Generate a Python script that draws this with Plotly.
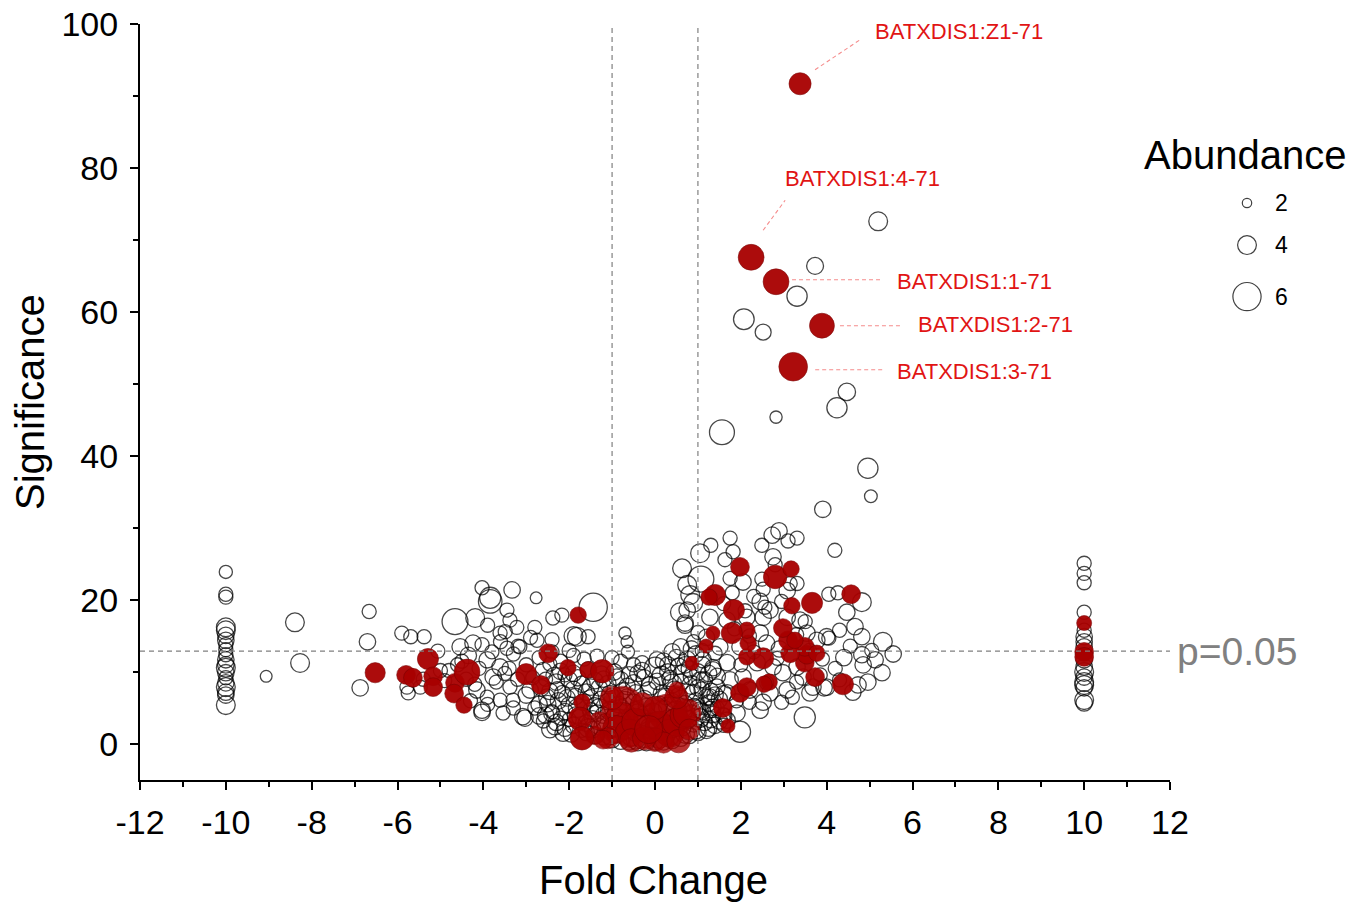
import plotly.graph_objects as go

# ---------------- layout constants (screen px) ----------------
W, H = 1362, 902
SX0, SX1 = 140, 1170      # plot area left / right
SY0, SY1 = 24, 780        # plot area top / bottom
X_RANGE = [-12, 12]
Y_RANGE = [-5, 100]
SIZE_SCALE = 4.7          # px of diameter per abundance unit
FONT = "Arial, Liberation Sans, sans-serif"


def px(sx):
    return sx / W


def py(sy):
    return 1 - sy / H


# ---------------- data ----------------
fc_thresholds = [-1, 1]
sig_threshold = 12.9
p_label = "p=0.05"
x_ticks = [-12, -10, -8, -6, -4, -2, 0, 2, 4, 6, 8, 10, 12]
y_ticks = [0, 20, 40, 60, 80, 100]

# column of features with fold change = -10 : (significance, abundance)
col_left_fc = -10
col_left = [(23.9, 2.8), (20.8, 3), (20.4, 3), (16.2, 4), (15.8, 4), (15.1, 3.5), (14.4, 3.5),
            (13.8, 3), (13.1, 3), (12.4, 3), (11.7, 3.5), (11.0, 3.5), (10.6, 4), (9.9, 3.5),
            (9.2, 3), (8.5, 3.5), (7.9, 4), (7.2, 3.5), (6.8, 3.5), (5.4, 4)]

# column of features with fold change = +10
col_right_fc = 10
col_right = [(25.1, 3), (23.7, 3), (22.4, 3), (18.3, 3), (15.8, 3), (14.9, 3.5), (14.2, 3.5),
             (13.5, 3.5), (11.7, 3.5), (10.7, 3.5), (10.0, 4), (9.3, 3.5), (8.6, 4), (8.2, 4),
             (7.8, 3.5), (6.1, 4), (5.7, 3.5)]
col_right_red = [(16.8, 3.2), (12.8, 4), (12.1, 4)]

# open circles (fold change, significance, abundance)
open_left_wing = [
    (-9.06, 9.4, 2.5), (-8.39, 16.9, 4), (-8.27, 11.25, 4), (-6.87, 7.8, 3.5), (-6.66, 18.4, 3),
    (-6.7, 14.2, 3.5), (-5.9, 15.4, 3), (-5.69, 14.9, 3), (-5.38, 14.9, 3), (-5.06, 12.9, 3),
    (-5.78, 7.9, 3), (-5.75, 7.1, 3), (-5.47, 7.9, 3), (-4.66, 17.0, 5.5), (-4.19, 17.5, 4),
    (-4.03, 21.7, 3), (-3.84, 20.3, 4.5), (-3.84, 19.8, 5), (-3.33, 21.4, 3.5), (-2.77, 20.3, 2.5),
    (-3.45, 18.6, 3), (-3.38, 17.2, 3), (-3.22, 16.2, 3), (-3.49, 15.6, 3), (-2.8, 16.2, 3),
    (-2.38, 17.5, 3), (-2.17, 17.9, 3), (-3.19, 13.6, 3), (-4.54, 13.5, 3.5), (-4.24, 14.0, 3.5),
    (-4.03, 13.8, 3), (-3.91, 11.7, 3.5), (-3.61, 10.7, 3.5), (-3.77, 9.3, 3.5), (-4.15, 7.5, 3.5),
    (-3.91, 6.5, 3), (-4.03, 4.4, 3.5), (-3.38, 7.9, 3), (-3.31, 6.1, 3), (-3.08, 3.8, 3.5),
    (-3.54, 4.3, 3), (-2.91, 7.5, 3.5), (-2.52, 6.5, 3.5), (-2.28, 7.5, 3.5), (-4.5, 11.5, 3),
    (-4.8, 10.2, 3), (-4.35, 12.3, 3.5), (-4.1, 10.5, 3), (-3.3, 12.5, 3), (-3.0, 11.0, 3),
    (-2.6, 10.2, 3.5), (-2.7, 12.0, 3), (-2.2, 11.5, 3), (-2.0, 13.0, 3), (-1.9, 15.0, 4),
    (-1.56, 14.9, 3), (-1.82, 14.9, 4), (-1.44, 19.0, 6), (-2.4, 14.5, 3), (-2.9, 14.8, 3),
    (-3.6, 14.2, 3), (-3.9, 16.5, 3), (-3.61, 15.4, 3), (-3.45, 13.3, 3), (-3.15, 13.5, 3),
    (-2.75, 14.4, 3), (-3.61, 6.1, 3), (-3.7, 8.6, 3), (-3.5, 9.8, 3), (-3.2, 9.0, 3),
    (-2.85, 9.2, 3), (-4.4, 9.0, 3), (-4.9, 8.8, 3), (-3.03, 3.6, 3.5), (-2.33, 2.4, 3.5),
    (-2.14, 1.5, 3.5), (-4.03, 4.7, 3.5), (-2.6, 3.2, 3), (-2.8, 5.0, 3), (-2.4, 4.5, 3),
    (-0.7, 15.4, 2.6), (-0.65, 14.2, 2.6), (-0.63, 12.8, 2.8), (-2.55, 9.0, 3), (-2.1, 9.6, 3),
    (-3.3, 5.0, 3), (-3.9, 5.5, 3), (-4.3, 6.0, 3), (-4.6, 11.0, 3), (-5.0, 10.2, 3),
    (-5.4, 9.0, 3), (-3.8, 12.8, 3), (-4.2, 8.3, 3), (-3.0, 6.8, 3.5), (-2.7, 3.9, 3.5),
    (-3.4, 10.5, 3), (-2.45, 11.1, 3),
]

open_center = [
    (-1.2, 1.0, 3.5), (-1.0, 0.6, 3.5), (-0.8, 0.4, 3.5), (-0.6, 0.3, 3.5), (-0.4, 0.2, 3.5),
    (-0.2, 0.2, 3.5), (0.0, 0.3, 3.5), (0.2, 0.3, 3.5), (0.4, 0.5, 3.5), (0.6, 0.8, 3.5),
    (0.8, 1.2, 3.5), (1.0, 1.6, 3.5), (-1.4, 1.2, 3.5), (-1.6, 1.6, 3.5), (1.2, 1.9, 3.5),
    (-2.1, 2.2, 3.5), (-1.9, 2.6, 3.5), (-1.6, 2.9, 3.5), (-1.3, 2.4, 3.5), (-1.0, 2.0, 3.5),
    (-0.7, 1.8, 3.5), (-0.45, 1.5, 3.5), (-0.1, 1.2, 3.5), (0.15, 1.6, 3.5), (0.4, 2.0, 3.5),
    (0.65, 2.3, 3.5), (0.9, 2.8, 3.5), (1.15, 3.0, 3.5), (1.4, 2.6, 3.5), (-2.3, 3.0, 3.5),
    (-2.4, 4.2, 3.5), (-2.1, 4.5, 3.5), (-1.85, 4.0, 3.5), (-1.5, 4.6, 3.5), (-1.2, 4.0, 3.5),
    (-0.95, 3.8, 3.5), (-0.6, 3.5, 3.5), (-0.3, 3.7, 3.5), (0.0, 3.2, 3.5), (0.3, 3.6, 3.5),
    (0.55, 4.0, 3.5), (0.85, 4.3, 3.5), (1.1, 4.5, 3.5), (1.35, 4.1, 3.5), (1.6, 3.9, 3.5),
    (-2.5, 5.6, 3.5), (-2.25, 6.0, 3.5), (-2.0, 5.4, 3.5), (-1.65, 5.8, 3.5), (-1.4, 5.3, 3.5),
    (-1.1, 5.9, 3.5), (-0.85, 5.5, 3.5), (-0.5, 5.8, 3.5), (-0.2, 5.2, 3.5), (0.1, 5.5, 3.5),
    (0.4, 5.9, 3.5), (0.7, 5.6, 3.5), (0.95, 6.0, 3.5), (1.25, 5.7, 3.5), (1.5, 6.2, 3.5),
    (-2.45, 7.3, 3.5), (-2.15, 7.0, 3.5), (-1.9, 7.6, 3.5), (-1.6, 7.2, 3.5), (-1.3, 7.8, 3.5),
    (-1.05, 7.0, 3.5), (-0.75, 7.4, 3.5), (-0.45, 7.1, 3.5), (-0.15, 7.5, 3.5), (0.15, 7.0, 3.5),
    (0.45, 7.6, 3.5), (0.75, 7.2, 3.5), (1.0, 7.8, 3.5), (1.3, 7.3, 3.5), (1.6, 7.0, 3.5),
    (-2.3, 8.6, 3.5), (-2.0, 8.9, 3.5), (-1.7, 8.3, 3.5), (-1.4, 8.8, 3.5), (-1.1, 8.4, 3.5),
    (-0.8, 8.9, 3.5), (-0.5, 8.5, 3.5), (-0.25, 9.2, 3.5), (0.05, 8.7, 3.5), (0.35, 9.1, 3.5),
    (0.6, 8.6, 3.5), (0.85, 9.3, 3.5), (1.15, 8.9, 3.5), (1.45, 9.4, 3.5),
    (-2.2, 10.1, 3.5), (-1.9, 9.8, 3.5), (-1.55, 10.3, 3.5), (-1.25, 9.7, 3.5), (-0.95, 10.0, 3.5),
    (-0.6, 9.6, 3.5), (-0.3, 10.2, 3.5), (0.0, 10.6, 4.5), (0.3, 10.0, 3.5), (0.55, 10.8, 3.5),
    (0.8, 10.4, 3.5), (1.1, 11.0, 3.5), (1.35, 10.6, 3.5),
    (0.2, 11.5, 3.5), (0.5, 12.0, 3.5), (0.75, 11.8, 3.5), (0.95, 12.5, 3.5), (0.4, 12.8, 3.5),
    (0.6, 13.5, 3.5), (0.85, 13.2, 3.5), (0.3, 11.0, 3.5), (0.05, 11.7, 3.5),
    (-0.5, 11.0, 3), (-0.8, 11.5, 3), (-0.3, 11.3, 3),
    (-0.9, 1.5, 4), (-0.55, 1.0, 4), (-0.25, 0.8, 4), (0.1, 0.7, 4), (0.35, 1.1, 4), (0.7, 1.4, 4),
    (-1.15, 2.9, 4), (-0.35, 2.6, 4), (0.25, 2.7, 4), (0.55, 3.0, 4), (-0.75, 3.0, 4),
    (-1.45, 3.5, 3.5), (1.25, 2.2, 3.5), (-1.75, 3.7, 3.5), (-0.05, 4.4, 4), (0.2, 4.8, 4),
    (-0.45, 4.6, 4), (-0.8, 4.9, 4), (-1.3, 5.0, 4), (0.65, 5.0, 4), (1.0, 5.2, 3.5),
    (-0.65, 6.5, 3.5), (-0.25, 6.3, 3.5), (0.25, 6.6, 3.5), (0.55, 6.7, 3.5), (-1.0, 6.6, 3.5),
    (-1.5, 6.4, 3.5), (-1.85, 6.6, 3.5), (1.2, 6.5, 3.5), (-2.0, 3.4, 3), (-1.7, 1.9, 3),
    (1.45, 5.0, 3), (1.6, 2.6, 3), (-0.1, 2.2, 4.5), (0.45, 3.4, 4.5), (-0.95, 2.5, 4.5),
    (-2.45, 2.0, 3.5), (-2.2, 3.6, 3), (-1.95, 1.4, 3.5), (-1.8, 5.0, 4), (-1.55, 2.2, 4),
    (-1.35, 4.3, 3.5), (-1.25, 6.2, 3.5), (-1.05, 4.6, 4), (-0.85, 3.3, 4.5), (-0.7, 6.0, 4),
    (-0.4, 4.1, 4.5), (-0.15, 3.0, 4), (0.05, 2.0, 4.5), (0.3, 5.2, 4), (0.5, 4.5, 4.5),
    (0.75, 3.4, 4), (0.9, 5.0, 4), (1.05, 3.6, 4), (1.3, 4.8, 3.5), (1.5, 3.2, 3.5),
    (1.4, 6.8, 3.5), (1.1, 7.5, 3.5), (0.85, 8.2, 4), (0.65, 9.7, 4), (0.4, 8.4, 4),
    (0.15, 9.5, 4), (-0.1, 8.1, 4), (-0.4, 9.8, 3.5), (-0.65, 8.0, 3.5), (-0.9, 9.3, 3.5),
    (-1.2, 9.0, 3.5), (-1.5, 7.9, 3.5), (-1.8, 9.2, 3.5), (-2.05, 6.4, 3.5), (-2.35, 9.5, 3.5),
    (-2.65, 7.8, 3.5), (-2.7, 5.5, 3.5), (-2.55, 4.0, 3.5), (1.0, 10.0, 3.5), (1.25, 9.8, 3.5),
    (0.7, 11.0, 3.5), (0.9, 14.2, 3), (1.1, 13.0, 3), (-1.65, 11.8, 3), (-1.35, 12.2, 3),
    (-1.0, 12.0, 3), (-1.9, 12.3, 3), (-2.4, 12.8, 3), (-0.45, 0.6, 4), (0.25, 1.2, 4),
    (-1.05, 1.2, 4), (0.95, 2.0, 4), (-1.45, 2.0, 3.5), (1.3, 3.4, 3.5),
]

open_right_wing = [
    (1.75, 28.6, 3), (1.3, 27.6, 3), (1.05, 26.5, 4), (0.63, 24.4, 4), (1.07, 22.9, 5.5),
    (0.75, 22.1, 4), (0.82, 20.7, 4), (0.89, 19.6, 4), (0.58, 18.3, 4), (0.7, 16.5, 3.5),
    (1.63, 25.6, 3), (1.82, 26.7, 3), (2.05, 22.5, 3.5), (1.8, 21.0, 3), (1.75, 23.0, 3),
    (2.49, 27.6, 3), (2.73, 29.0, 3.5), (2.89, 29.6, 3.5), (3.1, 28.2, 3), (3.31, 28.6, 3),
    (2.75, 26.0, 3.5), (2.8, 24.9, 3), (2.49, 22.9, 3), (2.52, 21.5, 3), (2.45, 19.8, 3.5),
    (2.56, 19.0, 3), (3.15, 22.3, 3), (3.08, 21.3, 3.5), (3.31, 22.3, 3), (4.19, 26.9, 3),
    (4.05, 20.8, 3), (4.26, 21.0, 3), (4.47, 18.3, 3.5), (4.82, 19.7, 4), (4.66, 16.3, 3.5),
    (4.82, 14.9, 3.5), (4.05, 14.7, 3), (5.31, 14.2, 4), (5.55, 12.5, 3.5), (5.13, 11.7, 3.5),
    (4.82, 12.4, 3.5), (4.85, 11.0, 3.5), (5.29, 9.9, 3.5), (4.96, 8.6, 3.5), (4.73, 8.2, 3.5),
    (3.94, 7.8, 3.5), (4.61, 7.2, 3.5), (3.49, 3.7, 4.5), (2.52, 5.8, 3.5), (1.98, 1.7, 4.5),
    (3.91, 32.6, 3.5), (1.28, 17.6, 3.5), (1.68, 17.2, 3.5), (2.14, 17.6, 3.5), (2.52, 17.6, 3.5),
    (2.68, 18.6, 3.5), (3.08, 17.6, 3.5), (3.38, 17.2, 3.5), (3.54, 15.4, 3.5), (3.77, 14.4, 3.5),
    (4.0, 14.9, 3.5), (2.45, 15.4, 3.5), (1.98, 13.5, 3.5), (1.51, 13.5, 3.5), (1.12, 11.7, 3.5),
    (1.35, 10.3, 3.5), (1.68, 11.3, 3.5), (2.38, 11.3, 3.5), (2.75, 10.7, 3.5), (2.98, 9.9, 3.5),
    (3.31, 10.7, 3.5), (3.45, 9.3, 3.5), (3.68, 7.9, 3.5), (4.0, 7.9, 3.5), (2.05, 9.3, 3.5),
    (1.75, 8.9, 3.5), (1.44, 7.9, 3.5), (1.05, 8.9, 3.5), (0.89, 7.1, 3.5), (1.28, 6.5, 3.5),
    (1.68, 7.1, 3.5), (2.21, 7.5, 3.5), (2.68, 7.1, 3.5), (3.08, 7.5, 3.5), (3.61, 7.1, 3.5),
    (2.45, 4.7, 3.5), (1.68, 3.3, 3.5), (1.35, 5.1, 3.5), (1.05, 4.7, 3.5), (1.91, 4.3, 3.5),
    (4.4, 12.0, 3.5), (4.2, 10.5, 3), (3.9, 11.8, 3), (3.6, 13.0, 3), (2.9, 13.2, 3.5),
    (2.6, 14.0, 3.5), (2.2, 15.0, 3), (1.85, 16.0, 3), (1.2, 14.8, 3.5), (1.4, 12.6, 3),
    (2.3, 12.8, 3), (2.0, 11.0, 3), (2.6, 8.5, 3), (3.3, 8.6, 3), (1.9, 6.0, 3),
    (2.2, 5.8, 3), (1.6, 4.0, 3), (2.95, 5.8, 3), (3.2, 6.5, 3), (2.1, 18.5, 3),
    (2.3, 20.5, 3), (0.75, 18.6, 3.5), (0.7, 16.8, 3.5), (1.0, 15.5, 3), (1.6, 19.5, 3),
    (2.95, 19.8, 3), (3.5, 17.0, 3), (4.3, 15.8, 3), (4.55, 13.6, 3), (5.05, 13.0, 3),
    (3.85, 9.6, 3), (4.3, 8.9, 3), (2.85, 11.9, 3), (3.3, 15.2, 3),
    # high-significance features
    (5.2, 72.6, 4.0), (3.73, 66.4, 3.6), (3.31, 62.2, 4.3), (2.07, 59.0, 4.4), (2.52, 57.2, 3.4),
    (4.47, 48.9, 3.7), (4.24, 46.7, 4.3), (2.82, 45.4, 2.6), (1.56, 43.3, 5.3), (4.96, 38.3, 4.3),
    (5.03, 34.4, 2.7),
]

# highlighted (red) features
red_left = [
    (-6.52, 9.9, 4.3), (-5.8, 9.6, 4), (-5.64, 9.2, 4), (-5.29, 11.8, 4.5), (-5.17, 9.4, 4),
    (-5.17, 7.9, 4), (-4.66, 8.5, 4), (-4.68, 7.0, 4), (-4.45, 5.4, 3.5), (-4.38, 10.0, 5.5),
    (-3.0, 9.7, 4.5), (-2.66, 8.2, 4), (-2.49, 12.6, 4), (-2.03, 10.6, 3.5), (-1.79, 17.9, 3.5),
    (-1.56, 10.3, 3.5), (-1.23, 10.1, 5), (-1.7, 5.8, 3.5), (-1.75, 3.5, 5), (-1.7, 0.8, 5),
]
red_center = [
    (-0.75, 5.1, 9), (-0.77, 3.5, 7), (-0.9, 2.0, 6), (-0.6, 1.5, 6), (-0.45, 3.0, 6),
    (-1.0, 6.4, 5), (-0.55, 0.5, 5), (-1.1, 0.8, 4.5), (-1.4, 1.2, 4), (-1.21, 0.6, 4),
    (0.28, 4.3, 8), (0.1, 2.6, 6), (0.35, 1.5, 6), (0.5, 3.0, 6), (0.65, 4.0, 5.5),
    (0.75, 4.3, 6), (0.5, 6.5, 5), (0.51, 7.5, 3.5), (0.0, 0.6, 5), (0.2, 0.2, 4.5),
    (-0.25, 0.8, 5), (-0.3, 5.5, 5), (0.0, 5.0, 5), (0.55, 0.4, 5), (0.8, 2.0, 4.5),
    (-1.3, 3.2, 4), (-0.15, 2.0, 6),
]
red_right = [
    (1.98, 24.6, 4), (2.8, 23.2, 5), (3.17, 24.3, 3.5), (1.4, 20.7, 4.5), (1.26, 20.4, 3.5),
    (1.84, 18.6, 4.5), (3.19, 19.2, 3.5), (3.66, 19.6, 4.5), (4.57, 20.8, 4), (4.38, 8.3, 4.5),
    (3.73, 9.3, 4), (3.49, 11.3, 4), (3.54, 12.4, 4), (3.49, 13.5, 4), (3.77, 12.6, 3.5),
    (3.15, 12.6, 4), (3.1, 14.4, 4), (2.98, 16.1, 4), (3.26, 14.4, 3.5), (2.52, 11.9, 4.5),
    (2.14, 12.1, 3.5), (2.17, 14.0, 3.5), (2.14, 15.8, 3.5), (1.79, 15.4, 4.5), (1.35, 15.4, 3),
    (1.19, 13.6, 3), (0.86, 11.2, 3), (2.66, 8.6, 3.5), (2.54, 8.3, 3.5), (1.98, 7.1, 4),
    (2.14, 7.9, 4), (1.58, 5.0, 4), (1.7, 2.5, 3),
]

# labelled features
labels = ["BATXDIS1:Z1-71", "BATXDIS1:4-71", "BATXDIS1:1-71", "BATXDIS1:2-71", "BATXDIS1:3-71"]
labelled_fc = [3.38, 2.24, 2.82, 3.89, 3.22]
labelled_sig = [91.7, 67.6, 64.2, 58.1, 52.4]
labelled_ab = [4.7, 5.5, 5.5, 5.3, 6.1]

legend_title = "Abundance"
legend_sizes = [2, 4, 6]

# ---------------- helpers ----------------
px_per_x = (SX1 - SX0) / (X_RANGE[1] - X_RANGE[0])
px_per_y = (SY1 - SY0) / (Y_RANGE[1] - Y_RANGE[0])


def unpack(triples):
    return [t[0] for t in triples], [t[1] for t in triples], [SIZE_SCALE * t[2] for t in triples]


OPEN_STYLE = dict(color="rgba(0,0,0,0)", opacity=1,
                  line=dict(color="rgba(0,0,0,0.72)", width=1.3))
RED_STYLE = dict(color="rgb(168,0,0)", opacity=0.95,
                 line=dict(color="rgb(120,0,0)", width=0.6))
RED_CENTER_STYLE = dict(color="rgb(170,0,0)", opacity=0.8,
                        line=dict(color="rgb(110,0,0)", width=0.6))

fig = go.Figure()


def add(xs, ys, ss, style):
    fig.add_trace(go.Scatter(x=xs, y=ys, mode="markers", showlegend=False, hoverinfo="skip",
                             marker=dict(size=ss, symbol="circle", **style)))


# open circles
add([col_left_fc] * len(col_left), [p[0] for p in col_left],
    [SIZE_SCALE * p[1] for p in col_left], OPEN_STYLE)
add([col_right_fc] * len(col_right), [p[0] for p in col_right],
    [SIZE_SCALE * p[1] for p in col_right], OPEN_STYLE)
for grp in (open_left_wing, open_center, open_right_wing):
    add(*unpack(grp), OPEN_STYLE)

# red circles on top (central cluster translucent)
add(*unpack(red_center), RED_CENTER_STYLE)
add([col_right_fc] * len(col_right_red), [p[0] for p in col_right_red],
    [SIZE_SCALE * p[1] for p in col_right_red], RED_STYLE)
for grp in (red_left, red_right):
    add(*unpack(grp), RED_STYLE)
add(labelled_fc, labelled_sig, [SIZE_SCALE * a for a in labelled_ab], RED_STYLE)

# ---------------- threshold lines ----------------
GRAY = "rgb(128,128,128)"
shapes = []
for fc in fc_thresholds:
    shapes.append(dict(type="line", xref="x", yref="y", x0=fc, x1=fc, y0=Y_RANGE[0], y1=Y_RANGE[1],
                       line=dict(color=GRAY, width=1.2, dash="5px,4px")))
shapes.append(dict(type="line", xref="x", yref="y", x0=X_RANGE[0], x1=X_RANGE[1],
                   y0=sig_threshold, y1=sig_threshold,
                   line=dict(color=GRAY, width=1.2, dash="5px,4px")))

annotations = [dict(x=X_RANGE[1], y=sig_threshold, xref="x", yref="y", text=p_label,
                    showarrow=False, xanchor="left", yanchor="middle", xshift=5,
                    font=dict(family=FONT, size=39, color=GRAY))]

# ---------------- labels with dashed leaders (pixel offsets) ----------------
# (line start dx, dy, line end dx, dy, text left dx, text dy) ; dy positive = upward
label_offsets = [
    (15, 14, 60, 44, 73, 52),
    (12, 27, 34, 57, 32, 79),
    (16, 2, 106, 2, 119, 0),
    (18, 0, 78, 0, 94, 1),
    (22, -3, 89, -3, 102, -5),
]
LABEL_RED = "rgb(225,20,20)"
for name, fx, fy, off in zip(labels, labelled_fc, labelled_sig, label_offsets):
    sx0, sy0, sx1, sy1, tx, ty = off
    shapes.append(dict(type="line", xref="x", yref="y",
                       x0=fx + sx0 / px_per_x, y0=fy + sy0 / px_per_y,
                       x1=fx + sx1 / px_per_x, y1=fy + sy1 / px_per_y,
                       line=dict(color="rgb(245,140,140)", width=1.1, dash="4px,3px")))
    annotations.append(dict(x=fx, y=fy, xref="x", yref="y", text=name, showarrow=False,
                            xanchor="left", yanchor="middle", xshift=tx, yshift=ty,
                            font=dict(family=FONT, size=22, color=LABEL_RED)))

# ---------------- axis titles ----------------
annotations.append(dict(x=px(653), y=py(880), xref="paper", yref="paper",
                        text="Fold Change", showarrow=False, xanchor="center", yanchor="middle",
                        font=dict(family=FONT, size=40, color="black")))
annotations.append(dict(x=px(30), y=py(402), xref="paper", yref="paper",
                        text="Significance", showarrow=False, textangle=-90,
                        xanchor="center", yanchor="middle",
                        font=dict(family=FONT, size=40, color="black")))

# ---------------- size legend (own axes, screen-pixel units) ----------------
LEG_X = 1247
LEG_TOP = 203
LEG_GAP = 28
leg_y = []
cur = LEG_TOP
for i, s in enumerate(legend_sizes):
    if i > 0:
        cur += (SIZE_SCALE * legend_sizes[i - 1] + SIZE_SCALE * s) / 2 + LEG_GAP
    leg_y.append(cur)
fig.add_trace(go.Scatter(x=[LEG_X] * len(legend_sizes), y=leg_y, xaxis="x2", yaxis="y2",
                         mode="markers", showlegend=False, hoverinfo="skip", cliponaxis=False,
                         marker=dict(size=[SIZE_SCALE * s for s in legend_sizes],
                                     color="rgba(0,0,0,0)", opacity=1,
                                     line=dict(color="rgba(0,0,0,0.75)", width=1.2))))
for s, yy in zip(legend_sizes, leg_y):
    annotations.append(dict(x=px(1273), y=py(yy), xref="paper", yref="paper", text=str(s),
                            showarrow=False, xanchor="left", yanchor="middle",
                            font=dict(family=FONT, size=23, color="black")))
annotations.append(dict(x=px(1245), y=py(155), xref="paper", yref="paper", text=legend_title,
                        showarrow=False, xanchor="center", yanchor="middle",
                        font=dict(family=FONT, size=40, color="black")))

# ---------------- layout ----------------
axis_common = dict(showline=True, linecolor="black", linewidth=2, showgrid=False, zeroline=False,
                   automargin=False, ticks="outside", ticklen=8, tickwidth=2, tickcolor="black",
                   ticklabeloverflow="allow",
                   tickfont=dict(family=FONT, size=34, color="black"))
fig.update_layout(
    template="none",
    width=W, height=H,
    margin=dict(l=0, r=0, t=0, b=0, autoexpand=False),
    paper_bgcolor="white", plot_bgcolor="white",
    xaxis=dict(domain=[px(SX0), px(SX1)], range=X_RANGE, tickvals=x_ticks,
               ticktext=[str(v) for v in x_ticks], ticklabelstandoff=3,
               minor=dict(dtick=1, ticklen=5, tickwidth=2, ticks="outside", tickcolor="black"),
               **axis_common),
    yaxis=dict(domain=[py(SY1), py(SY0)], range=Y_RANGE, tickvals=y_ticks,
               ticktext=[str(v) for v in y_ticks], ticklabelstandoff=5,
               minor=dict(dtick=10, ticklen=5, tickwidth=2, ticks="outside", tickcolor="black"),
               **axis_common),
    xaxis2=dict(domain=[px(1200), px(1300)], range=[1200, 1300], visible=False, anchor="y2",
                automargin=False),
    yaxis2=dict(domain=[py(330), py(180)], range=[330, 180], visible=False, anchor="x2",
                automargin=False),
    shapes=shapes,
    annotations=annotations,
)

# remove the page's default body margin so the figure fills the window exactly
fig.write_html("out.html", config={"displayModeBar": False},
               post_script="document.body.style.margin='0';document.body.style.overflow='hidden';")
